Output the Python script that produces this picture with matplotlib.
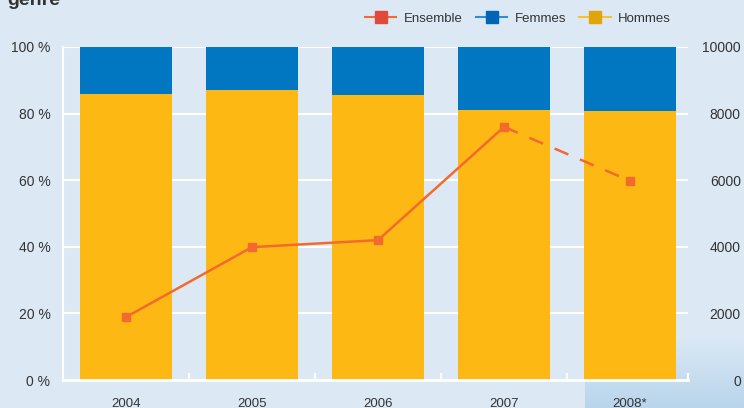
import matplotlib
matplotlib.use("Agg")
import matplotlib.pyplot as plt
from matplotlib.lines import Line2D
from matplotlib.colors import LinearSegmentedColormap
import numpy as np

plt.rcParams["font.family"] = ["Liberation Sans", "DejaVu Sans"]

years = ["2004", "2005", "2006", "2007", "2008*"]
hommes_pct = [85.9, 87.1, 85.6, 81.1, 80.8]
femmes_pct = [100 - h for h in hommes_pct]
ensemble = [1890, 3990, 4200, 7600, 5980]
left_ticks = ["0 %", "20 %", "40 %", "60 %", "80 %", "100 %"]
right_ticks = ["0", "2000", "4000", "6000", "8000", "10000"]

bg = "#dce9f5"
c_h = "#fdb813"
c_f = "#0077c0"
c_line = "#f26a2e"

fig = plt.figure(figsize=(7.44, 4.08), dpi=100, facecolor=bg)
# decorative soft gradient patch bottom-right
bgax = fig.add_axes([585/744, 0, (744-585)/744, (408-335)/408], zorder=-5)
grad = np.linspace(0, 1, 50)[:, None] * np.ones((1, 50))
cm = LinearSegmentedColormap.from_list("g", [bg, "#b9d5ec"])
bgax.imshow(grad, aspect="auto", cmap=cm, origin="upper", extent=[0, 1, 0, 1])
bgax.axis("off")

ax = fig.add_axes([63/744, (408-380)/408, (688-63)/744, (380-47)/408])
ax.set_facecolor("none")
x = np.arange(len(years))
for yv in range(20, 101, 20):
    ax.axhline(yv, color="white", lw=1.5, zorder=1)
ax.bar(x, hommes_pct, width=0.73, color=c_h, zorder=2)
ax.bar(x, femmes_pct, width=0.73, bottom=hommes_pct, color=c_f, zorder=2)
ax.set_xlim(-0.5, 4.46)
ax.set_ylim(0, 100)
ax.set_yticks(range(0, 101, 20))
ax.set_yticklabels(left_ticks)
ax.set_xticks(x)
ax.set_xticklabels(years)
ax.set_xticks(list(x[:-1] + 0.5) + [4.46], minor=True)
ax.tick_params(axis="x", which="major", length=0, pad=13, labelsize=9.5, labelcolor="#333333")
ax.tick_params(axis="x", which="minor", direction="in", length=5, color="white", width=1.5)
ax.tick_params(axis="y", length=0, pad=9, labelsize=10, labelcolor="#333333")
for s in ["top", "right"]:
    ax.spines[s].set_visible(False)
ax.spines["left"].set_color("white")
ax.spines["left"].set_linewidth(1.5)
ax.spines["bottom"].set_color("white")
ax.spines["bottom"].set_linewidth(2)

ax2 = ax.twinx()
ax2.set_ylim(0, 10000)
ax2.set_yticks(range(0, 10001, 2000))
ax2.set_yticklabels(right_ticks)
ax2.tick_params(axis="y", length=0, pad=38, labelsize=10, labelcolor="#333333")
for lbl in ax2.get_yticklabels():
    lbl.set_horizontalalignment("right")
for s in ax2.spines.values():
    s.set_visible(False)
ax2.plot(x[:4], ensemble[:4], color=c_line, lw=1.8, marker="s", ms=6, zorder=4)
ax2.plot(x[3:], ensemble[3:], color=c_line, lw=1.8, ls=(0, (6, 5)), zorder=4)
ax2.plot(x[4:], ensemble[4:], color=c_line, marker="s", ms=6, ls="none", zorder=4)

handles = [
    Line2D([], [], color=c_line, lw=1.5, marker="s", ms=9, mfc="#e04a3c", mec="#e04a3c"),
    Line2D([], [], color="#2a8fd6", lw=1.5, marker="s", ms=9, mfc="#0066b3", mec="#0066b3"),
    Line2D([], [], color="#f7c232", lw=1.5, marker="s", ms=9, mfc="#e0a50a", mec="#e0a50a"),
]
fig.legend(handles, ["Ensemble", "Femmes", "Hommes"], loc="center",
           bbox_to_anchor=(518/744, 1 - 19/408), ncol=3, frameon=False,
           fontsize=9.5, handlelength=2.4, columnspacing=1.0, handletextpad=0.55,
           labelcolor="#333333")
fig.text(0.01, 1.02, "genre", fontsize=14, fontweight="bold", color="#333333", va="top")
fig.savefig("out.png", dpi=100, facecolor=bg)
